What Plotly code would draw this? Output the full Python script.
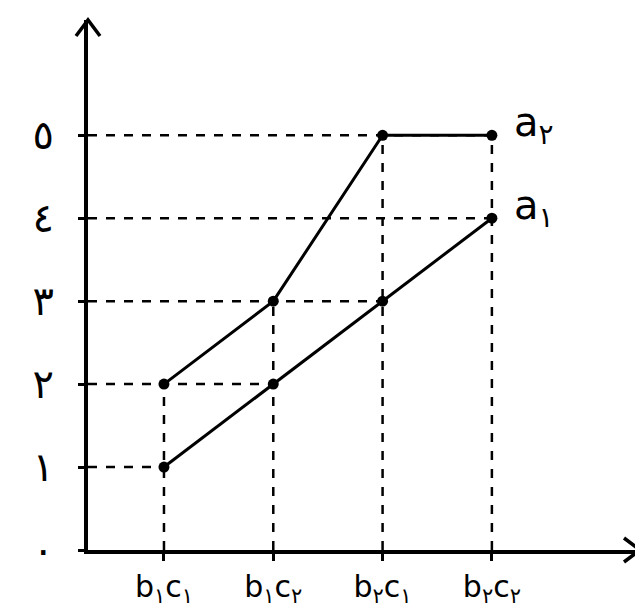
import plotly.graph_objects as go

# Daten
x_labels = ["b<sub>١</sub>c<sub>١</sub>", "b<sub>١</sub>c<sub>٢</sub>",
            "b<sub>٢</sub>c<sub>١</sub>", "b<sub>٢</sub>c<sub>٢</sub>"]
x_pos = [0, 1, 2, 3]
a1 = [1, 2, 3, 4]
a2 = [2, 3, 5, 5]
y_ticks = [0, 1, 2, 3, 4, 5]
y_labels = ["٠", "١", "٢", "٣", "٤", "٥"]
series = {"a<sub>١</sub>": a1, "a<sub>٢</sub>": a2}

x_range = [-0.695, 4.355]
y_range = [0, 6.39]

fig = go.Figure()

# Hilfslinien (gestrichelt) von den Punkten zu den Achsen
h_lines = {}
for vals in series.values():
    for xp, yv in zip(x_pos, vals):
        h_lines[yv] = max(h_lines.get(yv, -1), xp)
for yv, xp in h_lines.items():
    fig.add_shape(type="line", xref="x", yref="y", x0=x_range[0], x1=xp, y0=yv, y1=yv,
                  line=dict(color="black", width=2.5, dash="dash"), layer="below")
for i, xp in enumerate(x_pos):
    top = max(a1[i], a2[i])
    fig.add_shape(type="line", xref="x", yref="y", x0=xp, x1=xp, y0=0, y1=top,
                  line=dict(color="black", width=2.5, dash="dash"), layer="below")

# Linien
for name, vals in series.items():
    fig.add_trace(go.Scatter(x=x_pos, y=vals, mode="lines+markers", name=name,
                             line=dict(color="black", width=3),
                             marker=dict(color="black", size=11)))
    fig.add_annotation(x=x_pos[-1], y=vals[-1], text=name, showarrow=False,
                       xanchor="left", yanchor="middle", xshift=20, yshift=10,
                       font=dict(size=40, color="black"))

# Pfeilspitzen der Achsen
fig.add_shape(type="path", xref="paper", yref="paper", xsizemode="pixel", ysizemode="pixel",
              xanchor=1, yanchor=0, path="M -16,12 L 0,0 L -16,-12",
              line=dict(color="black", width=3.5))
fig.add_shape(type="path", xref="paper", yref="paper", xsizemode="pixel", ysizemode="pixel",
              xanchor=0, yanchor=1, path="M -12,-16 L 0,0 L 12,-16",
              line=dict(color="black", width=3.5))

# Seite hat 8px Rand -> Figur entsprechend kleiner
fig.update_layout(
    width=635, height=602,
    margin=dict(l=80, r=3, t=12, b=60),
    plot_bgcolor="white", paper_bgcolor="white",
    showlegend=False,
    font=dict(family="DejaVu Sans", color="black"),
    xaxis=dict(range=x_range, tickvals=x_pos, ticktext=x_labels, showgrid=False, zeroline=False,
               showline=True, linewidth=4, linecolor="black", ticks="outside", ticklen=7,
               tickwidth=3, tickcolor="black", tickfont=dict(size=30), automargin=False),
    yaxis=dict(range=y_range, tickvals=y_ticks, ticktext=y_labels, showgrid=False, zeroline=False,
               showline=True, linewidth=4, linecolor="black", ticks="outside", ticklen=6,
               tickwidth=3, tickcolor="black", tickfont=dict(size=40), ticklabelstandoff=16,
               automargin=False),
)

fig.write_html("out.html")
